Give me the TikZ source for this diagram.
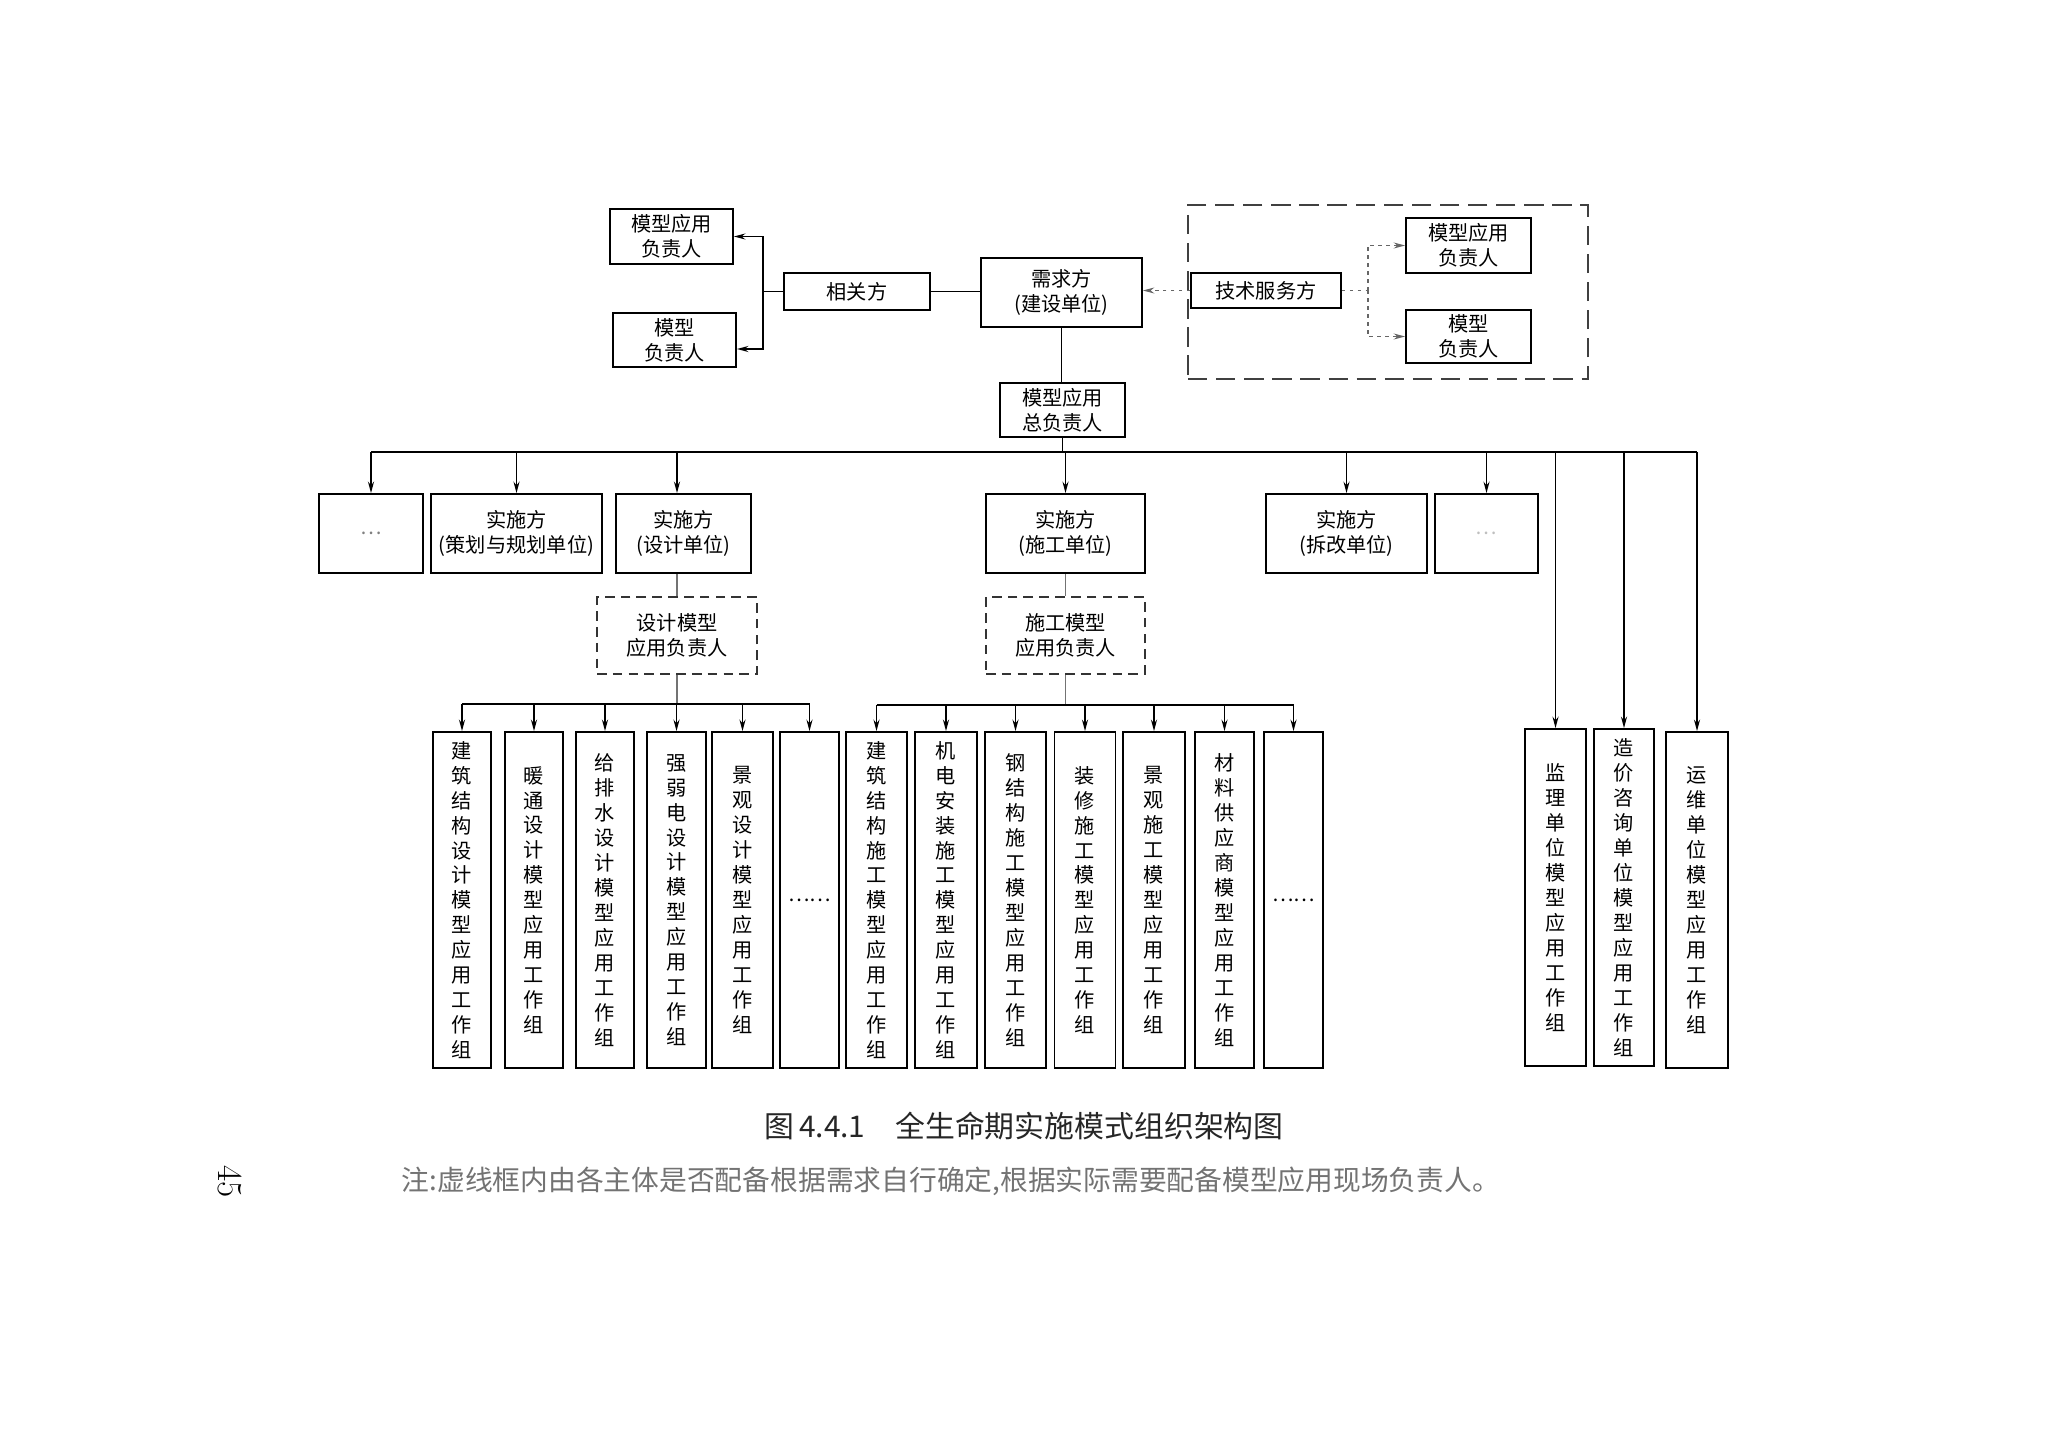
\documentclass[tikz,border=0pt]{standalone}
\usepackage{fontspec}
\newfontfamily\cjk{Noto Sans CJK SC}
\usetikzlibrary{arrows.meta}
\def\vtxt#1{\vtxtA#1\vtxtEnd}
\def\vtxtA#1{#1\vtxtB}
\def\vtxtB#1{\ifx\vtxtEnd#1\else\\#1\expandafter\vtxtB\fi}
\def\vtxtEnd{}
\tikzset{
  bx/.style 2 args={draw,minimum width=#1*0.02cm,minimum height=#2*0.02cm,inner sep=0pt,align=center},
  dbx/.style={draw=black!80,line width=0.9pt,dash pattern=on 5.5pt off 3.5pt},
  arr/.style={-{Stealth[length=6.5pt,width=3.4pt]}},
  tdash/.style={draw=black!60,line width=0.9pt,dash pattern=on 2pt off 2.5pt},
  gln/.style={draw=black!55},
}
\begin{document}
\begin{tikzpicture}[x=0.02cm,y=-0.02cm,line width=1pt,font=\cjk\fontsize{11.5}{14.2}\selectfont]
\useasboundingbox (0,0) rectangle (2048,1430);
\node[bx={123}{55}] (fzL1) at (671.5,236.5) {模型应用\\负责人};
\node[bx={123}{54}] (fzL2) at (674.5,340) {模型\\负责人};
\node[bx={146}{37}] (xgf) at (857,291.5) {相关方};
\node[bx={161}{69}] (xqf) at (1061.5,292.5) {需求方\\(建设单位)};
\node[bx={400}{174},draw=black!75,dash pattern=on 11pt off 5pt] (jsk) at (1388,292) {};
\node[bx={150}{35},fill=white] (jsf) at (1266,290.5) {技术服务方};
\node[bx={125}{55}] (fzR1) at (1468.5,245.5) {模型应用\\负责人};
\node[bx={125}{53}] (fzR2) at (1468.5,336.5) {模型\\负责人};
\node[bx={125}{54}] (zfz) at (1062.5,410) {模型应用\\总负责人};
\coordinate (xgb) at (763,291.5);
\draw (xgf.west) -- (xgb);
\draw[arr] (xgb) |- (fzL1.east);
\draw[arr] (xgb) |- ([yshift=-0.18cm]fzL2.east);
\draw (xgf.east) -- (xqf.west |- xgf.east);
\draw[tdash,arr] (jsf.west) -- (xqf.east |- jsf.west);
\coordinate (jsb) at (1368,290.5);
\draw[tdash] (jsf.east) -- (jsb);
\draw[tdash,arr] (jsb) |- (fzR1.west);
\draw[tdash,arr] (jsb) |- (fzR2.west);
\draw (xqf.south) -- (xqf.south |- zfz.north);

\node[bx={104}{79}] (qt1) at (371,533.5) {\color{black!50}…};
\node[bx={171}{79}] (chdw) at (516.5,533.5) {实施方\\(策划与规划单位)};
\node[bx={135}{79}] (sjdw) at (683.5,533.5) {实施方\\(设计单位)};
\node[bx={159}{79}] (sgdw) at (1065.5,533.5) {实施方\\(施工单位)};
\node[bx={161}{79}] (cgdw) at (1346.5,533.5) {实施方\\(拆改单位)};
\node[bx={103}{79}] (qt2) at (1486.5,533.5) {\color{black!25}…};
\node[bx={160}{77},dbx] (sjfz) at (677,635.5) {设计模型\\应用负责人};
\node[bx={159}{77},dbx] (sgfz) at (1065.5,635.5) {施工模型\\应用负责人};

\node[bx={58}{336}] (sjjg) at (462,900) {\vtxt{建筑结构设计模型应用工作组}};
\node[bx={58}{336}] (sjnt) at (534,900) {\vtxt{暖通设计模型应用工作组}};
\node[bx={58}{336}] (sjgps) at (605,900) {\vtxt{给排水设计模型应用工作组}};
\node[bx={59}{336}] (sjrd) at (676.5,900) {\vtxt{强弱电设计模型应用工作组}};
\node[bx={61}{336}] (sjjl) at (742.5,900) {\vtxt{景观设计模型应用工作组}};
\node[bx={59}{336}] (sjqt) at (809.5,900) {……};
\node[bx={61}{336}] (sgjg) at (876.5,900) {\vtxt{建筑结构施工模型应用工作组}};
\node[bx={62}{336}] (sgjd) at (946,900) {\vtxt{机电安装施工模型应用工作组}};
\node[bx={61}{336}] (sggjg) at (1015.5,900) {\vtxt{钢结构施工模型应用工作组}};
\node[bx={61}{336}] (sgzx) at (1085,900) {\vtxt{装修施工模型应用工作组}};
\node[bx={62}{336}] (sgjl) at (1154,900) {\vtxt{景观施工模型应用工作组}};
\node[bx={59}{336}] (sgcl) at (1224.5,900) {\vtxt{材料供应商模型应用工作组}};
\node[bx={59}{336}] (sgqt) at (1293.5,900) {……};
\node[bx={61}{337}] (jlz) at (1555.5,897.5) {\vtxt{监理单位模型应用工作组}};
\node[bx={60}{337}] (zjz) at (1624,897.5) {\vtxt{造价咨询单位模型应用工作组}};
\node[bx={62}{336}] (ywz) at (1697,900) {\vtxt{运维单位模型应用工作组}};

\coordinate (zb) at (1062.5,452);
\draw (zfz.south) -- (zb);
\draw (qt1.north |- zb) -- (ywz.north |- zb);
\foreach \n in {qt1,chdw,sgdw,cgdw,qt2,jlz,zjz,ywz}
  \draw[arr] (\n.north |- zb) -- (\n.north);
\draw[arr] (sjfz.north |- zb) -- (sjfz.north |- sjdw.north);
\draw[gln] (sjfz.north |- sjdw.south) -- (sjfz.north);
\draw[gln] (sgdw.south) -- (sgfz.north);

\coordinate (sjb) at (677,704);
\draw[gln] (sjfz.south) -- (sjb);
\draw (sjjg.north |- sjb) -- (sjqt.north |- sjb);
\foreach \n in {sjjg,sjnt,sjgps,sjrd,sjjl,sjqt}
  \draw[arr] (\n.north |- sjb) -- (\n.north);
\coordinate (sgb) at (1065.5,705);
\draw[gln] (sgfz.south) -- (sgb);
\draw (sgjg.north |- sgb) -- (sgqt.north |- sgb);
\foreach \n in {sgjg,sgjd,sggjg,sgzx,sgjl,sgcl,sgqt}
  \draw[arr] (\n.north |- sgb) -- (\n.north);

\node[font=\cjk\fontsize{17}{20}\selectfont,text=black!85] (tuti) at (1024,1126) {图\,4.4.1\quad 全生命期实施模式组织架构图};
\node[font=\cjk\fontsize{15.8}{18}\selectfont,text=black!55,anchor=west,inner sep=0pt] (zhu) at (401,1181) {注:虚线框内由各主体是否配备根据需求自行确定,根据实际需要配备模型应用现场负责人。};
\node[rotate=-90,font=\rmfamily\fontsize{20}{24}\selectfont] (yema) at (229.5,1181.5) {45};
\end{tikzpicture}
\end{document}
